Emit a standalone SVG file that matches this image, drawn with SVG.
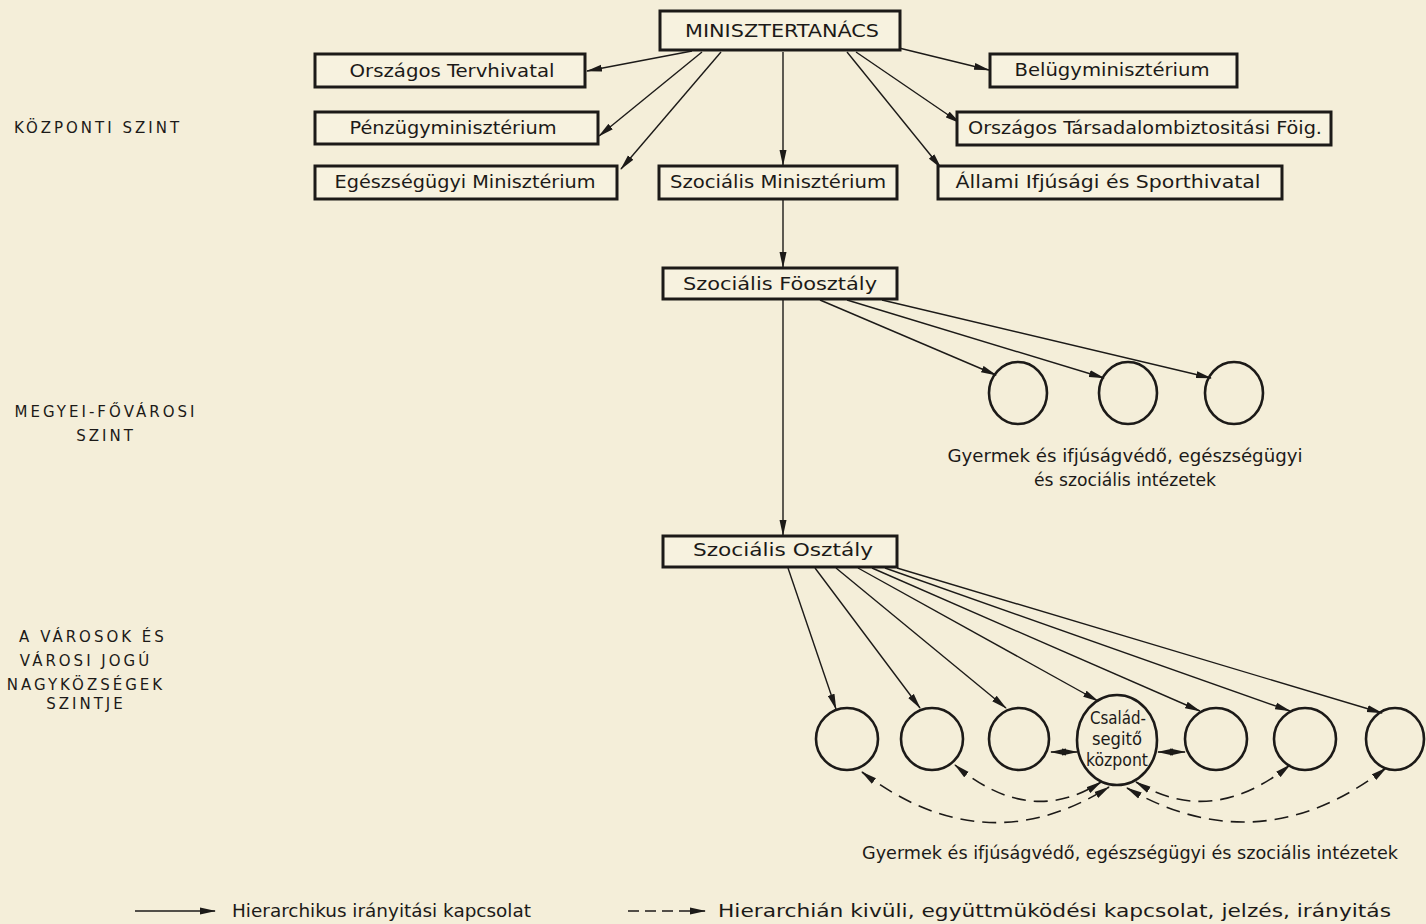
<svg xmlns="http://www.w3.org/2000/svg" width="1426" height="924" viewBox="0 0 1426 924">
<defs>
<marker id="ah" viewBox="0 0 16 8" refX="15" refY="4" markerWidth="16" markerHeight="8" markerUnits="userSpaceOnUse" orient="auto-start-reverse">
<path d="M0,0.5 L16,4 L0,7.5 z" fill="#1c1a18"/>
</marker>
</defs>
<style>
.bg{fill:#f4eed9}
.box{fill:#f7f2df;stroke:#1c1a18;stroke-width:3}
.c{fill:none;stroke:#1c1a18;stroke-width:2.6}
.t{font-family:"DejaVu Sans Condensed","DejaVu Sans",sans-serif;font-stretch:condensed;font-size:17px;fill:#1c1a18;text-anchor:middle;dominant-baseline:central}
.lv{font-family:"DejaVu Sans","Liberation Sans",sans-serif;font-size:15px;fill:#1c1a18;text-anchor:middle;letter-spacing:3px}
.s{fill:none;stroke:#1c1a18;stroke-width:1.4;marker-end:url(#ah)}
.d{fill:none;stroke:#1c1a18;stroke-width:1.6;stroke-dasharray:14,8;marker-end:url(#ah);marker-start:url(#ah)}
</style>
<rect class="bg" x="0" y="0" width="1426" height="924"/>

<g id="levels">
<text class="lv" x="98" y="133">KÖZPONTI SZINT</text>
<text class="lv" x="106" y="417">MEGYEI-FŐVÁROSI</text>
<text class="lv" x="106" y="441">SZINT</text>
<text class="lv" x="93" y="642">A VÁROSOK ÉS</text>
<text class="lv" x="86" y="666">VÁROSI JOGÚ</text>
<text class="lv" x="86" y="690">NAGYKÖZSÉGEK</text>
<text class="lv" x="86" y="709">SZINTJE</text>
</g>

<g id="connectors">
<line class="s" x1="692" y1="51" x2="587" y2="71"/>
<line class="s" x1="702" y1="52" x2="599" y2="136"/>
<line class="s" x1="721" y1="52" x2="621" y2="169"/>
<line class="s" x1="783" y1="52" x2="783" y2="165"/>
<line class="s" x1="847" y1="52" x2="941" y2="168"/>
<line class="s" x1="856" y1="52" x2="960" y2="123"/>
<line class="s" x1="899" y1="48" x2="989" y2="70"/>
<line class="s" x1="783" y1="200" x2="783" y2="267"/>
<line class="s" x1="783" y1="300" x2="783" y2="535"/>
<line class="s" x1="820" y1="300" x2="996" y2="375"/>
<line class="s" x1="847" y1="300" x2="1104" y2="378"/>
<line class="s" x1="882" y1="300" x2="1211" y2="378"/>
<line class="s" x1="788" y1="568" x2="836" y2="709"/>
<line class="s" x1="815" y1="568" x2="920" y2="708"/>
<line class="s" x1="836" y1="568" x2="1006" y2="708"/>
<line class="s" x1="858" y1="568" x2="1098" y2="701"/>
<line class="s" x1="872" y1="568" x2="1200" y2="711"/>
<line class="s" x1="885" y1="568" x2="1290" y2="711"/>
<line class="s" x1="897" y1="568" x2="1382" y2="713"/>
<path class="d" d="M1051,752 L1077,752"/>
<path class="d" d="M1158,752 L1185,752"/>
<path class="d" d="M955,765 Q1030,828 1101,782"/>
<path class="d" d="M862,772 Q985,865 1109,787"/>
<path class="d" d="M1136,782 Q1212,828 1290,765"/>
<path class="d" d="M1127,788 Q1260,865 1386,768"/>
</g>

<g id="n-minisztertanacs"><rect class="box" x="660" y="11" width="240" height="39"/><text class="t" x="782" y="31" textLength="194" lengthAdjust="spacingAndGlyphs">MINISZTERTANÁCS</text></g>
<g id="n-tervhivatal"><rect class="box" x="315" y="54" width="270" height="33"/><text class="t" x="452" y="71" textLength="205" lengthAdjust="spacingAndGlyphs">Országos Tervhivatal</text></g>
<g id="n-penzugy"><rect class="box" x="315" y="112" width="283" height="32"/><text class="t" x="453" y="128" textLength="207" lengthAdjust="spacingAndGlyphs">Pénzügyminisztérium</text></g>
<g id="n-egeszseg"><rect class="box" x="315" y="166" width="302" height="33"/><text class="t" x="465" y="182" textLength="261" lengthAdjust="spacingAndGlyphs">Egészségügyi Minisztérium</text></g>
<g id="n-szocmin"><rect class="box" x="659" y="166" width="238" height="33"/><text class="t" x="778" y="182" textLength="216" lengthAdjust="spacingAndGlyphs">Szociális Minisztérium</text></g>
<g id="n-belugy"><rect class="box" x="990" y="54" width="247" height="33"/><text class="t" x="1112" y="70" textLength="195" lengthAdjust="spacingAndGlyphs">Belügyminisztérium</text></g>
<g id="n-otf"><rect class="box" x="957" y="112" width="374" height="33"/><text class="t" x="1145" y="128" textLength="354" lengthAdjust="spacingAndGlyphs">Országos Társadalombiztositási Föig.</text></g>
<g id="n-ifjusag"><rect class="box" x="938" y="166" width="344" height="33"/><text class="t" x="1108" y="182" textLength="305" lengthAdjust="spacingAndGlyphs">Állami Ifjúsági és Sporthivatal</text></g>
<g id="n-foosztaly"><rect class="box" x="663" y="268" width="234" height="31"/><text class="t" x="780" y="284" textLength="194" lengthAdjust="spacingAndGlyphs">Szociális Föosztály</text></g>
<g id="n-osztaly"><rect class="box" x="663" y="536" width="234" height="31"/><text class="t" x="783" y="550" textLength="180" lengthAdjust="spacingAndGlyphs">Szociális Osztály</text></g>

<g id="n-megyei-intezetek">
<ellipse class="c" cx="1018" cy="393" rx="29" ry="31"/>
<ellipse class="c" cx="1128" cy="393" rx="29" ry="31"/>
<ellipse class="c" cx="1234" cy="393" rx="29" ry="31"/>
<text class="t" x="1125" y="456" font-size="15" textLength="355" lengthAdjust="spacingAndGlyphs">Gyermek és ifjúságvédő, egészségügyi</text>
<text class="t" x="1125" y="480" font-size="15" textLength="182" lengthAdjust="spacingAndGlyphs">és szociális intézetek</text>
</g>

<g id="n-varosi-intezetek">
<ellipse class="c" cx="847" cy="739" rx="31" ry="31"/>
<ellipse class="c" cx="932" cy="739" rx="31" ry="31"/>
<ellipse class="c" cx="1019" cy="739" rx="30" ry="31"/>
<ellipse class="c" cx="1216" cy="739" rx="31" ry="31"/>
<ellipse class="c" cx="1305" cy="739" rx="31" ry="31"/>
<ellipse class="c" cx="1395" cy="739" rx="29" ry="31"/>
<text class="t" x="1130" y="853" font-size="15" textLength="536" lengthAdjust="spacingAndGlyphs">Gyermek és ifjúságvédő, egészségügyi és szociális intézetek</text>
</g>

<g id="n-csaladsegito">
<ellipse class="c" cx="1117" cy="740" rx="40" ry="45"/>
<text class="t" x="1118" y="718" font-size="14" textLength="56" lengthAdjust="spacingAndGlyphs">Család-</text>
<text class="t" x="1117" y="739" font-size="14" textLength="50" lengthAdjust="spacingAndGlyphs">segitő</text>
<text class="t" x="1117" y="760" font-size="14" textLength="62" lengthAdjust="spacingAndGlyphs">központ</text>
</g>

<g id="legend">
<line class="s" x1="135" y1="911" x2="215" y2="911"/>
<text class="t" x="232" y="911" font-size="15" style="text-anchor:start" textLength="299" lengthAdjust="spacingAndGlyphs">Hierarchikus irányitási kapcsolat</text>
<path d="M628,911 L705,911" style="fill:none;stroke:#1c1a18;stroke-width:1.6;stroke-dasharray:11,6;marker-end:url(#ah)"/>
<text class="t" x="718" y="911" font-size="15" style="text-anchor:start" textLength="673" lengthAdjust="spacingAndGlyphs">Hierarchián kivüli, együttmüködési kapcsolat, jelzés, irányitás</text>
</g>
</svg>
